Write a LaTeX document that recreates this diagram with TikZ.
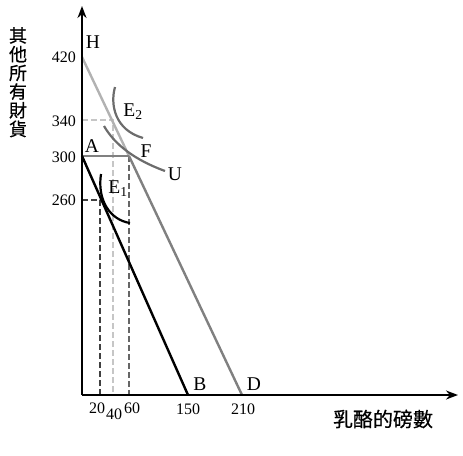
\documentclass[tikz,border=0pt]{standalone}
\usepackage{fontspec}
\setmainfont{Liberation Serif}
\newfontfamily\cjk[FakeBold=0.6]{Noto Sans CJK TC}
\usetikzlibrary{arrows.meta}
\begin{document}
\begin{tikzpicture}[x=1pt,y=-1pt,
  axis/.style={line width=1.8pt,-{Stealth[length=12pt,width=9pt]}},
  budget/.style={line width=2.4pt},
  icurve/.style={line width=2.2pt},
  guide/.style={line width=1.1pt,dash pattern=on 6pt off 3pt},
  lbl/.style={font=\fontsize{19.5}{19.5}\selectfont,inner sep=0pt},
  tick/.style={font=\fontsize{16}{16}\selectfont,inner sep=0pt}]
\useasboundingbox (0,0) rectangle (463,455);
% points
\coordinate (O) at (82,395);
\coordinate (Ytop) at (82,6);
\coordinate (Xend) at (458,395);
\coordinate (H) at (82,57);
\coordinate (A) at (82,156);
\coordinate (F) at (129,156);
\coordinate (B) at (188,395);
\coordinate (D) at (242,395);
\coordinate (E1) at (100,200);
\coordinate (E2) at (113,120);
\coordinate (x20) at (100,395);
\coordinate (x40) at (113,395);
\coordinate (x60) at (129,395);
\coordinate (y260) at (82,200);
\coordinate (y340) at (82,120);
% guides
\draw[guide,gray!45] (y340) -- (E2) -- (x40);
\draw[guide,black!75] (y260) -- (E1) -- (x20);
\draw[guide,black!60] (F) -- (x60);
% budget lines
\draw[budget,gray!60] (H) -- (F);
\draw[budget,gray] (F) -- (D);
\draw[budget,gray] (A) -- (F);
\draw[budget,black] (A) -- (B);
% indifference curves
\draw[icurve,gray!85!black] (115,87) .. controls (110,105) and (115,130) .. (143,138);
\draw[icurve,gray!85!black] (104,126) .. controls (115,145) and (135,160) .. (165,171);
\draw[icurve,black] (101,174) .. controls (97,200) and (110,220) .. (130,223);
% axes
\draw[axis] (O) -- (Ytop);
\draw[axis] (O) -- (Xend);
% labels
\node[lbl] (lH) at (93,42) {H};
\node[lbl] (lA) at (92,146) {A};
\node[lbl] (lF) at (146,151) {F};
\node[lbl] (lU) at (175,174) {U};
\node[lbl] (lE2) at (133,112) {E\textsubscript{2}};
\node[lbl] (lE1) at (118,189) {E\textsubscript{1}};
\node[lbl] (lB) at (200,384) {B};
\node[lbl] (lD) at (254,384) {D};
\node[tick,anchor=east] (t420) at (76,57) {420};
\node[tick,anchor=east] (t340) at (76,121) {340};
\node[tick,anchor=east] (t300) at (76,157) {300};
\node[tick,anchor=east] (t260) at (76,200) {260};
\node[tick] (t20) at (97,408) {20};
\node[tick] (t40) at (114,414) {40};
\node[tick] (t60) at (132,408) {60};
\node[tick] (t150) at (188,409) {150};
\node[tick] (t210) at (243,409) {210};
\node[inner sep=0pt,font=\cjk\fontsize{20}{20}\selectfont] (xl) at (383,419) {乳酪的磅數};
\node[inner sep=0pt,font=\cjk\fontsize{18}{18.7}\selectfont,align=center,anchor=north] (yl) at (18,27) {其\\他\\所\\有\\財\\貨};
\end{tikzpicture}
\end{document}
